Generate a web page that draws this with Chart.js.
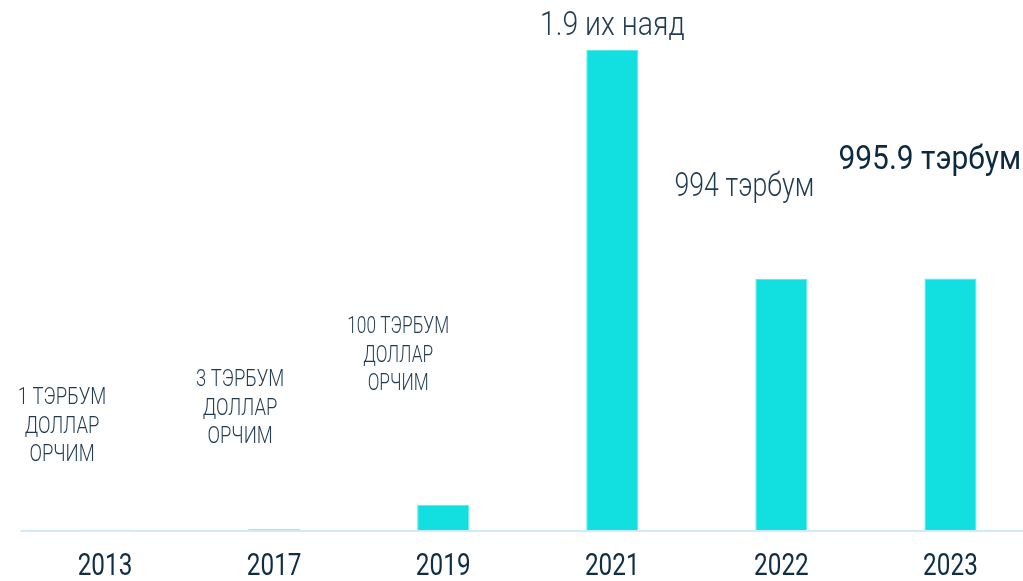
<!DOCTYPE html>
<html>
<head>
<meta charset="utf-8">
<script src="https://cdn.jsdelivr.net/npm/chart.js@4"></script>
<style>
  html, body { margin: 0; padding: 0; background: #fff; overflow: hidden; }
  #wrap { width: 1035px; height: 581px; }
</style>
</head>
<body>
<div id="wrap"><canvas id="barchart" width="1035" height="581"></canvas></div>
<script>
// data (billion USD)
const years = ['2013', '2017', '2019', '2021', '2022', '2023'];
const values = [1, 3, 100, 1900, 994, 995.9];
const valueLabels = [
    ['1 ТЭРБУМ', 'ДОЛЛАР', 'ОРЧИМ'],
    ['3 ТЭРБУМ', 'ДОЛЛАР', 'ОРЧИМ'],
    ['100 ТЭРБУМ', 'ДОЛЛАР', 'ОРЧИМ'],
    ['1.9 их наяд'],
    ['994 тэрбум'],
    ['995.9 тэрбум']
];

// where each label sits, relative to its bar centre
const labelStyle = [
    { dx: -43, y: 398, size: 24, lh: 28.5, sx: 0.77, align: 'center', weight: 300, color: '#1f3b52' },
    { dx: -34, y: 380, size: 24, lh: 28.5, sx: 0.77, align: 'center', weight: 300, color: '#1f3b52' },
    { dx: -45, y: 327, size: 24, lh: 28.5, sx: 0.72, align: 'center', weight: 300, color: '#1f3b52' },
    { dx: 0, y: 27, size: 33, lh: 34, sx: 0.86, align: 'center', weight: 300, color: '#1f3b52' },
    { dx: -37, y: 188, size: 33, lh: 34, sx: 0.81, align: 'center', weight: 300, color: '#1f3b52' },
    { dx: -112, y: 160, size: 34, lh: 34, sx: 0.88, align: 'left', weight: 400, color: '#0b2a40' }
];

function condensedText(ctx, text, x, y, size, sx, align, weight, color) {
    ctx.save();
    ctx.font = weight + ' ' + size + 'px Roboto, "Liberation Sans", sans-serif';
    ctx.fillStyle = color;
    ctx.textBaseline = 'middle';
    ctx.textAlign = align;
    ctx.translate(x, y);
    ctx.scale(sx, 1);
    ctx.fillText(text, 0, 0);
    ctx.restore();
}

const labelPlugin = {
    id: 'labelPlugin',
    beforeDatasetsDraw(chart) {
        const ctx = chart.ctx;
        const area = chart.chartArea;
        ctx.save();
        ctx.strokeStyle = '#cfeaf8';
        ctx.lineWidth = 2;
        ctx.beginPath();
        ctx.moveTo(area.left, area.bottom + 1);
        ctx.lineTo(chart.width, area.bottom + 1);
        ctx.stroke();
        ctx.restore();
    },
    afterDatasetsDraw(chart) {
        const ctx = chart.ctx;
        const xs = chart.scales.x;
        years.forEach((yr, i) => {
            const cx = xs.getPixelForValue(i);
            condensedText(ctx, yr, cx, 567, 32, 0.76, 'center', 400, '#0f2d45');
            const st = labelStyle[i];
            valueLabels[i].forEach((line, j) => {
                condensedText(ctx, line, cx + st.dx, st.y + j * st.lh, st.size, st.sx,
                    st.align, st.weight, st.color);
            });
        });
    }
};

const ctx = document.getElementById('barchart').getContext('2d');
const barchart = new Chart(ctx, {
    type: 'bar',
    data: {
        labels: years,
        datasets: [{
            data: values,
            backgroundColor: '#12dfdf',
            borderColor: '#5fe9ea',
            borderWidth: 1,
            categoryPercentage: 1,
            barPercentage: 0.308
        }]
    },
    options: {
        responsive: false,
        animation: false,
        layout: { padding: { left: 20.5, right: 0, top: 50, bottom: 51 } },
        plugins: {
            legend: { display: false },
            tooltip: { enabled: false }
        },
        scales: {
            x: { display: false },
            y: { display: false, min: 0, max: 1900 }
        }
    },
    plugins: [labelPlugin]
});
</script>
</body>
</html>
